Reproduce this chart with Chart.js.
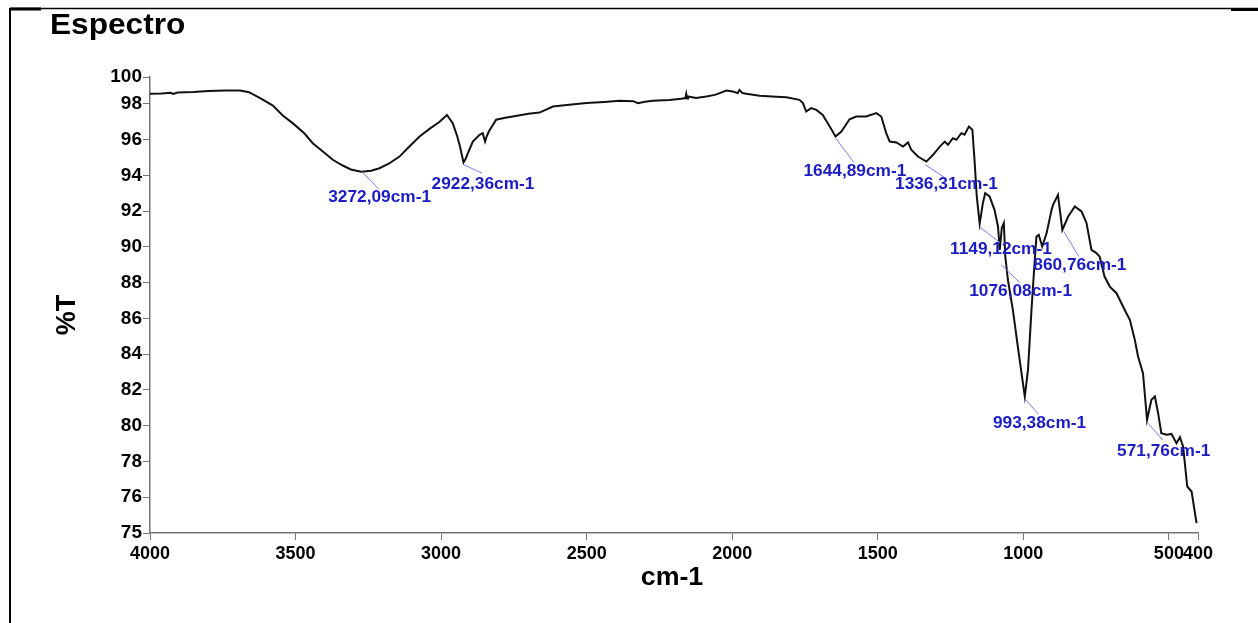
<!DOCTYPE html>
<html>
<head>
<meta charset="utf-8">
<title>Espectro</title>
<script src="https://cdn.jsdelivr.net/npm/chart.js@4.4.1/dist/chart.umd.min.js"></script>
<style>
  html, body { margin: 0; padding: 0; background: #fff; }
  #wrap { width: 1258px; height: 623px; }
</style>
</head>
<body>
<div id="wrap"><canvas id="spectrum" width="1258" height="623"></canvas></div>
<script>
// spectrum (cm-1 / %T)
const wavenumbers = [
  4000, 3960, 3930, 3920, 3905, 3850, 3800, 3740, 3690, 3660, 3620, 3578, 3544, 3510, 3470, 3441,
  3400, 3372, 3338, 3310, 3275, 3240, 3212, 3180, 3143, 3110, 3074, 3040, 3005, 2980, 2960, 2945,
  2935, 2923, 2915, 2908, 2891, 2868, 2857, 2849, 2843, 2836, 2811, 2780, 2754, 2700, 2662, 2616,
  2560, 2501, 2440, 2387, 2340, 2324, 2300, 2273, 2215, 2175, 2161, 2158, 2155, 2152, 2124, 2089,
  2060, 2043, 2020, 1998, 1981, 1975, 1965, 1952, 1906, 1850, 1814, 1769, 1757, 1746, 1729, 1711,
  1689, 1665, 1645, 1625, 1597, 1574, 1540, 1505, 1488, 1471, 1459, 1436, 1413, 1396, 1385, 1362,
  1333, 1310, 1287, 1270, 1259, 1242, 1230, 1213, 1202, 1187, 1175, 1167, 1160, 1150, 1139, 1131,
  1116, 1099, 1087, 1081, 1074, 1067, 1062, 1053, 1036, 1019, 995, 984, 972, 963, 955, 947,
  935, 920, 903, 898, 881, 866, 846, 823, 800, 783, 766, 749, 738, 721, 703, 692,
  680, 646, 634, 617, 606, 589, 575, 560, 548, 537, 526, 508, 491, 474, 462, 451,
  437, 422, 405
];
const transmittance = [
  98.56, 98.58, 98.62, 98.55, 98.63, 98.66, 98.72, 98.74, 98.74, 98.65, 98.30, 97.90, 97.35, 96.92, 96.35, 95.80,
  95.25, 94.87, 94.55, 94.33, 94.20, 94.26, 94.40, 94.65, 95.05, 95.60, 96.17, 96.60, 97.00, 97.38, 96.92, 96.20,
  95.60, 94.72, 94.95, 95.24, 95.89, 96.27, 96.36, 95.89, 96.20, 96.45, 97.11, 97.22, 97.29, 97.45, 97.51, 97.85,
  97.95, 98.04, 98.10, 98.17, 98.15, 98.04, 98.12, 98.17, 98.22, 98.28, 98.32, 98.56, 98.30, 98.41, 98.32, 98.41,
  98.50, 98.60, 98.74, 98.69, 98.60, 98.78, 98.60, 98.56, 98.45, 98.40, 98.37, 98.22, 98.04, 97.57, 97.76, 97.66,
  97.38, 96.73, 96.17, 96.45, 97.14, 97.29, 97.29, 97.48, 97.29, 96.36, 95.89, 95.84, 95.61, 95.84, 95.43, 95.05,
  94.77, 95.15, 95.61, 95.89, 95.71, 96.08, 95.99, 96.36, 96.27, 96.73, 96.55, 94.68, 92.82, 91.30, 92.45, 93.00,
  92.82, 92.07, 91.14, 89.83, 91.05, 91.33, 89.46, 88.16, 86.48, 84.43, 81.63, 83.12, 86.48, 88.72, 90.58, 90.67,
  90.02, 90.77, 92.07, 92.35, 92.91, 90.95, 91.70, 92.26, 91.98, 91.33, 89.83, 89.65, 89.46, 88.34, 87.78, 87.60,
  87.41, 86.29, 85.92, 84.80, 83.87, 82.94, 80.33, 81.45, 81.63, 80.70, 79.58, 79.49, 79.54, 79.02, 79.36, 78.83,
  76.60, 76.32, 74.55
];

// axis ticks as printed (the end labels of the y axis sit at the frame ends)
const xTickValues = [4000, 3500, 3000, 2500, 2000, 1500, 1000, 500, 400];
const xTickLabels = ['4000', '3500', '3000', '2500', '2000', '1500', '1000', '500', '400'];
const yTickValues = [74, 76, 78, 80, 82, 84, 86, 88, 90, 92, 94, 96, 98, 99.5];
const yTickLabels = ['75', '76', '78', '80', '82', '84', '86', '88', '90', '92', '94', '96', '98', '100'];

// marked peaks
const peakWavenumbers = [3272.09, 2922.36, 1644.89, 1336.31, 1149.12, 1076.08, 993.38, 860.76, 571.76];
const peakTransmittance = [94.21, 94.59, 96.08, 94.59, 91.10, 89.00, 81.48, 90.86, 80.14];
const peakLabels = ['3272,09cm-1', '2922,36cm-1', '1644,89cm-1', '1336,31cm-1', '1149,12cm-1',
  '1076,08cm-1', '993,38cm-1', '860,76cm-1', '571,76cm-1'];

// leader line offsets [dx, dy, text dy] in px
const leaderOffsets = [
  [16.7, 17.3, 9], [18.3, 8.3, 11.7], [18.3, 24.4, 9], [20, 13.3, 6.7], [20, 15.4, 7.3],
  [18.4, 17.7, 9], [13.3, 15, 9.7], [15, 25, 9.3], [14.7, 16.7, 11.7]
];

const FONT = "'Liberation Sans', Arial, sans-serif";
const AXIS_GREY = '#747474';

// text a bit wider than Arial, like the scanned original
function wideText(ctx, text, x, y, stretch) {
  ctx.save();
  ctx.translate(x, y);
  ctx.scale(stretch, 1);
  ctx.fillText(text, 0, 0);
  ctx.restore();
}

const pagePlugin = {
  id: 'page',
  beforeDraw(chart) {
    const ctx = chart.ctx;
    ctx.save();
    ctx.fillStyle = '#fff';
    ctx.fillRect(0, 0, chart.width, chart.height);
    // frame
    ctx.strokeStyle = '#000';
    ctx.lineWidth = 1.5;
    ctx.beginPath();
    ctx.moveTo(10, 8.5);
    ctx.lineTo(1258, 8.5);
    ctx.stroke();
    ctx.lineWidth = 2;
    ctx.beginPath();
    ctx.moveTo(10, 8);
    ctx.lineTo(10, 623);
    ctx.stroke();
    ctx.lineWidth = 3;
    ctx.beginPath();
    ctx.moveTo(10, 9);
    ctx.lineTo(41, 9);
    ctx.moveTo(1231, 9.5);
    ctx.lineTo(1258, 9.5);
    ctx.stroke();
    ctx.restore();
  },
  afterDraw(chart) {
    const ctx = chart.ctx;
    ctx.save();
    ctx.fillStyle = '#000';
    ctx.font = 'bold 29px ' + FONT;
    ctx.textAlign = 'left';
    ctx.textBaseline = 'alphabetic';
    wideText(ctx, 'Espectro', 50, 34, 1.09);

    ctx.font = 'bold 26px ' + FONT;
    ctx.textAlign = 'center';
    ctx.textBaseline = 'middle';
    wideText(ctx, 'cm-1', 672, 578, 1.03);

    ctx.translate(68, 315);
    ctx.rotate(-Math.PI / 2);
    ctx.font = 'bold 27px ' + FONT;
    ctx.fillText('%T', 0, 0);
    ctx.restore();
  }
};

const peakPlugin = {
  id: 'peaks',
  afterDatasetsDraw(chart) {
    const ctx = chart.ctx;
    const xs = chart.scales.x;
    const ys = chart.scales.y;
    ctx.save();
    ctx.font = 'bold 16px ' + FONT;
    ctx.textAlign = 'center';
    ctx.textBaseline = 'middle';
    peakWavenumbers.forEach((wn, i) => {
      const px = xs.getPixelForValue(wn);
      const py = ys.getPixelForValue(peakTransmittance[i]);
      const [dx, dy, ty] = leaderOffsets[i];
      ctx.strokeStyle = '#7c7cf6';
      ctx.lineWidth = 1;
      ctx.beginPath();
      ctx.moveTo(px, py);
      ctx.lineTo(px + dx, py + dy);
      ctx.stroke();
      ctx.fillStyle = '#1c1cc4';
      wideText(ctx, peakLabels[i], px + dx + 1, py + dy + ty, 1.08);
    });
    ctx.restore();
  }
};

const points = wavenumbers.map((wn, i) => ({ x: wn, y: transmittance[i] }));

new Chart(document.getElementById('spectrum').getContext('2d'), {
  type: 'line',
  data: {
    datasets: [{
      label: 'Espectro',
      data: points,
      borderColor: '#111',
      borderWidth: 2,
      pointRadius: 0,
      tension: 0,
      fill: false
    }]
  },
  options: {
    responsive: false,
    animation: false,
    devicePixelRatio: 1,
    layout: { padding: { top: 77, right: 60, left: 0, bottom: 0 } },
    plugins: {
      legend: { display: false },
      title: { display: false },
      tooltip: { enabled: false }
    },
    scales: {
      x: {
        type: 'linear',
        reverse: true,
        min: 400,
        max: 4000,
        afterBuildTicks(scale) {
          scale.ticks = xTickValues.map(v => ({ value: v }));
        },
        afterFit(scale) { scale.height = 90; },
        ticks: {
          autoSkip: false,
          maxRotation: 0,
          padding: 3,
          color: '#000',
          font: { family: FONT, size: 18, weight: 'bold' },
          callback: (value, index) => xTickLabels[index]
        },
        grid: { drawOnChartArea: false, drawTicks: true, tickLength: 7, color: AXIS_GREY, lineWidth: 1 },
        border: { color: AXIS_GREY, width: 1.5 }
      },
      y: {
        type: 'linear',
        min: 74,
        max: 99.5,
        afterBuildTicks(scale) {
          scale.ticks = yTickValues.map(v => ({ value: v }));
        },
        afterFit(scale) { scale.width = 150; },
        ticks: {
          autoSkip: false,
          padding: 1,
          color: '#000',
          font: { family: FONT, size: 19, weight: 'bold' },
          callback: (value, index) => yTickLabels[index]
        },
        grid: { drawOnChartArea: false, drawTicks: true, tickLength: 7, color: AXIS_GREY, lineWidth: 1 },
        border: { color: AXIS_GREY, width: 1.5 }
      }
    }
  },
  plugins: [pagePlugin, peakPlugin]
});
</script>
</body>
</html>
